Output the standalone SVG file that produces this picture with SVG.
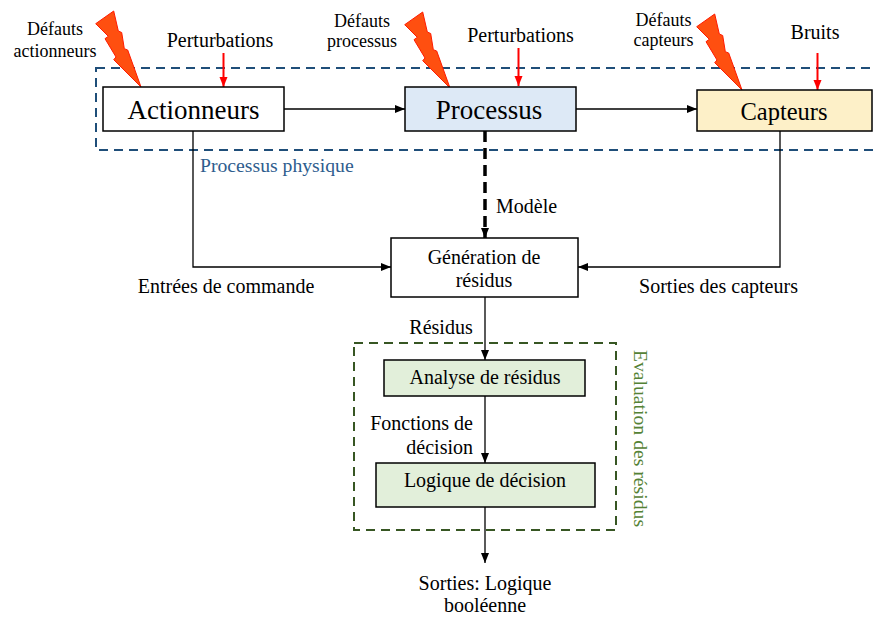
<svg xmlns="http://www.w3.org/2000/svg" xmlns:xlink="http://www.w3.org/1999/xlink" width="876" height="619" viewBox="0 0 876 619" font-family="'Liberation Serif', Tinos, 'Times New Roman', 'DejaVu Serif', serif">
<style>
text{font-family:'Liberation Serif',Tinos,'Times New Roman','DejaVu Serif',serif;fill:#000}
.lbl{font-size:20px}
.sm{font-size:18px}
.big{font-size:27px}
.box{stroke:#000;stroke-width:1.5}
.ln{fill:none;stroke:#000;stroke-width:1.3}
.red{fill:none;stroke:#ff0000;stroke-width:2}
.bolt{fill:#ff4f10;stroke:#ff1a00;stroke-width:1;stroke-linejoin:miter}
</style>
<defs>
<marker id="ah" markerUnits="userSpaceOnUse" markerWidth="10" markerHeight="10" refX="10" refY="5" orient="auto">
<path d="M0,1 L10,5 L0,9 z" fill="#000"/>
</marker>
<marker id="ahr" markerUnits="userSpaceOnUse" markerWidth="10" markerHeight="10" refX="10" refY="5" orient="auto">
<path d="M0,1 L10,5 L0,9 z" fill="#ff0000"/>
</marker>
<path id="boltShape" class="bolt" d="M4.7,24.7 L22.7,12 L27.3,32 L30.7,33.5 L33.3,49.7 L36.7,51 L50,88 L22.7,60.7 L25,58 L14,39.7 L17.3,37.3 Z"/>
</defs>

<g id="processus-physique">
<rect x="96" y="68" width="790" height="82" fill="none" stroke="#1f4e79" stroke-width="2" stroke-dasharray="9,6"/>
<text x="200" y="172" style="font-size:19.7px;fill:#2e5d8e">Processus physique</text>
</g>

<g id="evaluation-residus">
<rect x="354" y="343" width="262" height="187" fill="none" stroke="#375623" stroke-width="2" stroke-dasharray="9,6"/>
<text transform="translate(634,438.5) rotate(90)" text-anchor="middle" style="font-size:19.7px;fill:#548235">Evaluation des résidus</text>
</g>

<g id="connectors">
<line class="ln" x1="284" y1="109" x2="405" y2="109" marker-end="url(#ah)"/>
<line class="ln" x1="576" y1="109" x2="697" y2="109" marker-end="url(#ah)"/>
<line x1="485" y1="131" x2="485" y2="238" fill="none" stroke="#000" stroke-width="3.5" stroke-dasharray="11,6" marker-end="url(#ah)"/>
<polyline class="ln" points="193,131 193,267 391,267" marker-end="url(#ah)"/>
<polyline class="ln" points="780,131 780,267 578,267" marker-end="url(#ah)"/>
<line class="ln" x1="485" y1="297" x2="485" y2="360" marker-end="url(#ah)"/>
<line class="ln" x1="485" y1="396" x2="485" y2="463" marker-end="url(#ah)"/>
<line class="ln" x1="485" y1="507" x2="485" y2="563" marker-end="url(#ah)"/>
<line class="red" x1="223.5" y1="53" x2="223.5" y2="87" marker-end="url(#ahr)"/>
<line class="red" x1="518.5" y1="48" x2="518.5" y2="86" marker-end="url(#ahr)"/>
<line class="red" x1="817.5" y1="53" x2="817.5" y2="90" marker-end="url(#ahr)"/>
</g>

<g id="faults">
<use xlink:href="#boltShape" transform="translate(91,-1)"/>
<use xlink:href="#boltShape" transform="translate(400,0)"/>
<use xlink:href="#boltShape" transform="translate(692,2)"/>
<text class="sm" x="55" y="35" text-anchor="middle">Défauts</text>
<text class="sm" x="55" y="56.5" text-anchor="middle">actionneurs</text>
<text class="sm" x="362" y="26.5" text-anchor="middle">Défauts</text>
<text class="sm" x="362" y="47" text-anchor="middle">processus</text>
<text class="sm" x="663.5" y="26" text-anchor="middle">Défauts</text>
<text class="sm" x="663.5" y="46" text-anchor="middle">capteurs</text>
<text class="lbl" x="220" y="47" text-anchor="middle">Perturbations</text>
<text class="lbl" x="520.5" y="42" text-anchor="middle">Perturbations</text>
<text class="lbl" x="815" y="39" text-anchor="middle">Bruits</text>
</g>

<g id="actionneurs">
<rect class="box" x="103" y="87" width="181" height="44" fill="#fff"/>
<text class="big" x="193.5" y="118.5" text-anchor="middle">Actionneurs</text>
</g>

<g id="processus">
<rect class="box" x="405" y="87" width="171" height="44" fill="#dde9f6"/>
<text class="big" x="489" y="118.5" text-anchor="middle">Processus</text>
</g>

<g id="capteurs">
<rect class="box" x="697" y="90" width="175" height="41" fill="#fdf0c8"/>
<text x="784" y="119.5" text-anchor="middle" style="font-size:24.5px">Capteurs</text>
</g>

<g id="generation-residus">
<rect class="box" x="391" y="238" width="187" height="59" fill="#fff"/>
<text class="lbl" x="484" y="263.5" text-anchor="middle">Génération de</text>
<text class="lbl" x="484" y="287" text-anchor="middle">résidus</text>
</g>

<g id="analyse-residus">
<rect class="box" x="384" y="360" width="201" height="36" fill="#e2efda"/>
<text class="lbl" x="485" y="384" text-anchor="middle">Analyse de résidus</text>
</g>

<g id="logique-decision">
<rect class="box" x="376" y="463" width="219" height="44" fill="#e2efda"/>
<text class="lbl" x="485" y="487" text-anchor="middle">Logique de décision</text>
</g>

<g id="labels">
<text class="lbl" x="496" y="213">Modèle</text>
<text class="lbl" x="226" y="293" text-anchor="middle">Entrées de commande</text>
<text class="lbl" x="718.5" y="293" text-anchor="middle">Sorties des capteurs</text>
<text class="lbl" x="441" y="333.5" text-anchor="middle">Résidus</text>
<text class="lbl" x="473" y="430" text-anchor="end">Fonctions de</text>
<text class="lbl" x="473" y="453.5" text-anchor="end">décision</text>
<text class="lbl" x="485" y="589.5" text-anchor="middle">Sorties: Logique</text>
<text class="lbl" x="485" y="611.5" text-anchor="middle">booléenne</text>
</g>
</svg>
